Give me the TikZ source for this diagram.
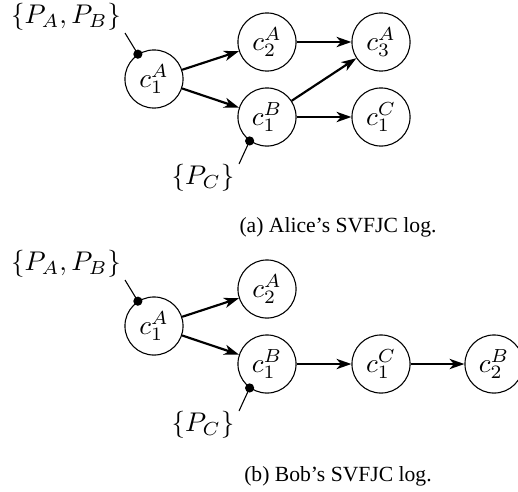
\documentclass[tikz,border=0pt]{standalone}
\usepackage[no-math]{fontspec}
\setmainfont{Liberation Serif}
\usetikzlibrary{arrows.meta}
\tikzset{
  state/.style={circle, draw, line width=0.4pt, minimum size=21.5pt, inner sep=0pt},
  flow/.style={-{Stealth[length=5.5pt,width=3.8pt,inset=1.6pt]}, line width=0.8pt},
  pinline/.style={line width=0.4pt},
  dotmark/.style={circle, fill, inner sep=0pt, minimum size=3.4pt},
  setlabel/.style={inner sep=0pt},
  caption/.style={font=\fontsize{8}{9.6}\selectfont, anchor=base, inner sep=0pt}
}
\begin{document}
\begin{tikzpicture}[x=0.37pt,y=-0.37pt]
\useasboundingbox (0,0) rectangle (518,491);
% ---------- (a) ----------
\node[state] (a1A) at (154,79) {$c_1^A$};
\node[state] (a2A) at (267,42) {$c_2^A$};
\node[state] (a3A) at (381,42) {$c_3^A$};
\node[state] (a1B) at (267,117) {$c_1^B$};
\node[state] (a1C) at (381,117) {$c_1^C$};
\draw[flow] (a1A) -- (a2A);
\draw[flow] (a1A) -- (a1B);
\draw[flow] (a2A) -- (a3A);
\draw[flow] (a1B) -- (a3A);
\draw[flow] (a1B) -- (a1C);
\node[setlabel] (aPAB) at (66,17) {$\{P_A, P_B\}$};
\node[setlabel] (aPC) at (203,178) {$\{P_C\}$};
\coordinate (aeA) at (125,33);
\coordinate (aeC) at (239,164);
\node[dotmark] (adA) at (a1A.123) {};
\node[dotmark] (adC) at (a1B.234) {};
\draw[pinline] (adA.center) -- (aeA);
\draw[pinline] (adC.center) -- (aeC);
\node[caption] (capa) at (338,232) {(a) Alice's SVFJC log.};
% ---------- (b) ----------
\node[state] (b1A) at (154,326) {$c_1^A$};
\node[state] (b2A) at (267,289) {$c_2^A$};
\node[state] (b1B) at (267,364) {$c_1^B$};
\node[state] (b1C) at (381,364) {$c_1^C$};
\node[state] (b2B) at (494,364) {$c_2^B$};
\draw[flow] (b1A) -- (b2A);
\draw[flow] (b1A) -- (b1B);
\draw[flow] (b1B) -- (b1C);
\draw[flow] (b1C) -- (b2B);
\node[setlabel] (bPAB) at (66,264) {$\{P_A, P_B\}$};
\node[setlabel] (bPC) at (203,425) {$\{P_C\}$};
\coordinate (beA) at (125,280);
\coordinate (beC) at (239,411);
\node[dotmark] (bdA) at (b1A.123) {};
\node[dotmark] (bdC) at (b1B.234) {};
\draw[pinline] (bdA.center) -- (beA);
\draw[pinline] (bdC.center) -- (beC);
\node[caption] (capb) at (338,481) {(b) Bob's SVFJC log.};
\end{tikzpicture}
\end{document}
